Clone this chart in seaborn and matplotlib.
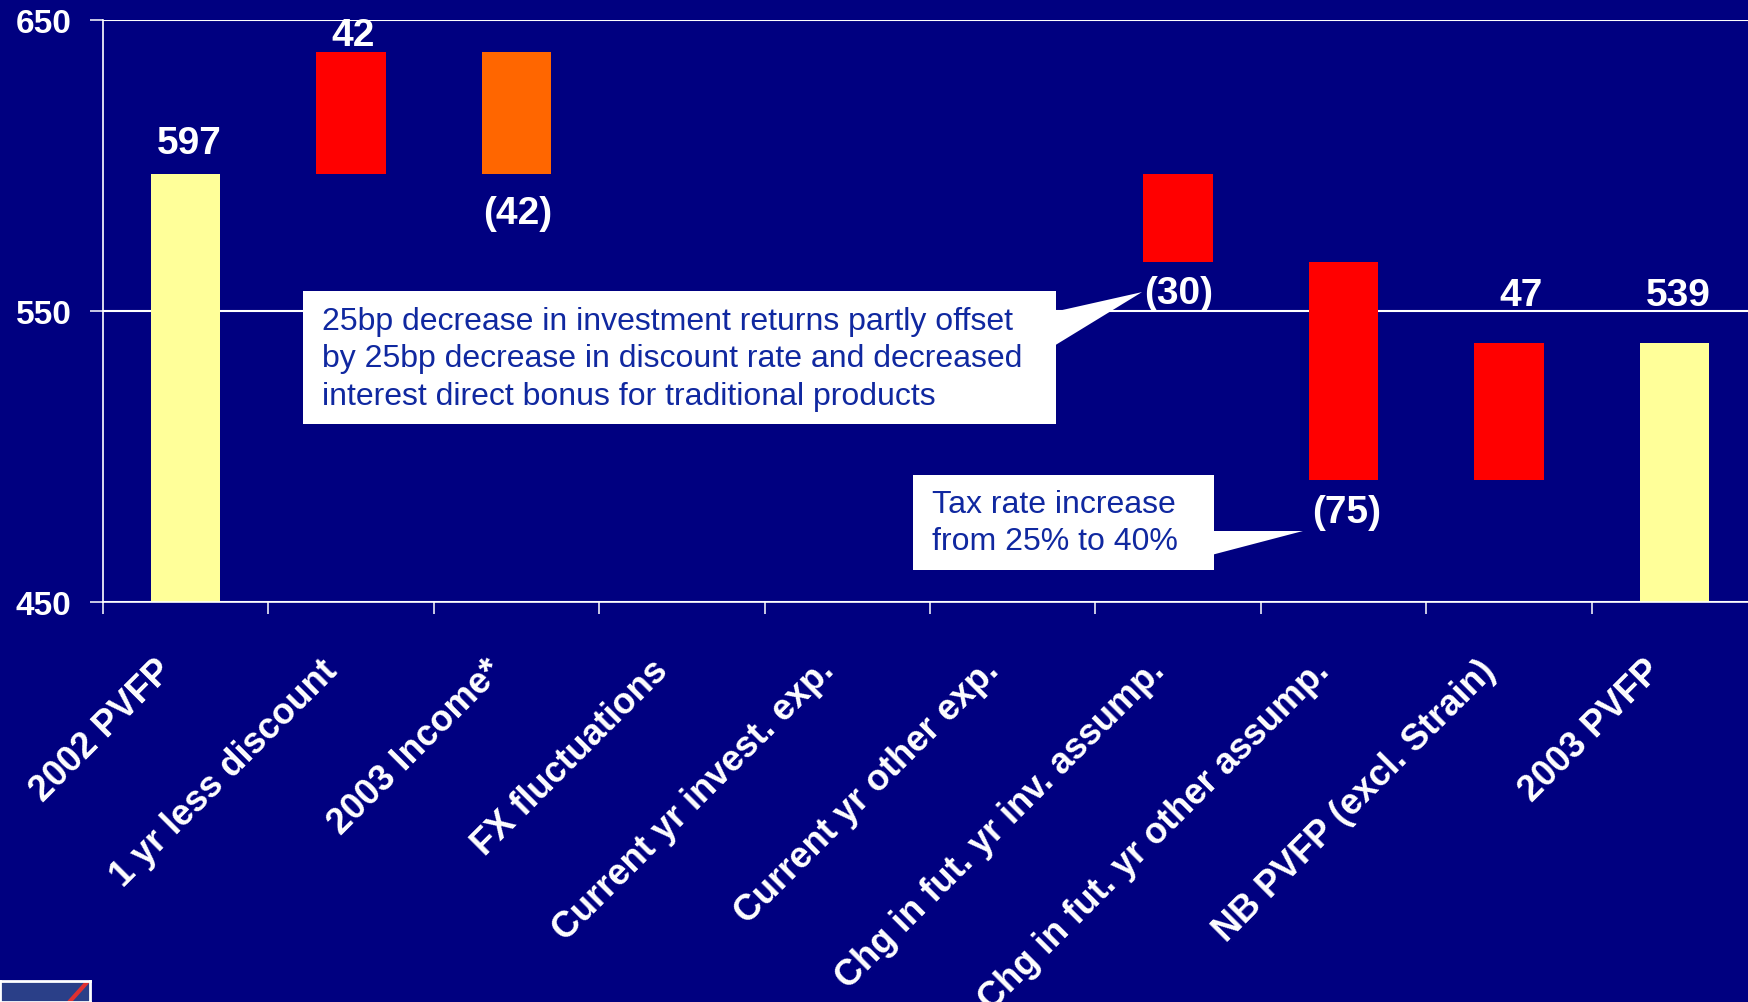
import matplotlib
matplotlib.use("Agg")
import numpy as np
import pandas as pd
import seaborn as sns
import matplotlib.pyplot as plt
from matplotlib.patches import Rectangle, Polygon
from matplotlib.transforms import ScaledTranslation

# PVFP walk, 2002 -> 2003
categories = ["2002 PVFP", "1 yr less discount", "2003 Income*", "FX fluctuations",
              "Current yr invest. exp.", "Current yr other exp.",
              "Chg in fut. yr inv. assump.", "Chg in fut. yr other assump.",
              "NB PVFP (excl. Strain)", "2003 PVFP"]
start_value = 597
changes = [42, -42, 0, 0, 0, -30, -75, 47]
end_value = 539
value_labels = ["597", "42", "(42)", "", "", "", "(30)", "(75)", "47", "539"]
bar_colors = ["#FFFF99", "#FF0000", "#FF6600", "#FF0000", "#FF0000",
              "#FF0000", "#FF0000", "#FF0000", "#FF0000", "#FFFF99"]
y_ticks = [450, 550, 650]

navy = "#000080"
note_blue = "#1028A0"

# waterfall geometry
running = start_value + np.cumsum(changes)
prev = np.concatenate([[start_value], running[:-1]])
bottoms = np.concatenate([[0], np.minimum(prev, running), [0]])
tops = np.concatenate([[start_value], np.maximum(prev, running), [end_value]])
df = pd.DataFrame({"step": categories, "height": tops - bottoms})

plt.rcParams["font.family"] = ["Liberation Sans", "DejaVu Sans"]
plt.rcParams["font.weight"] = "bold"

fig = plt.figure(figsize=(17.49, 10.03), dpi=100, facecolor=navy)
ax = fig.add_axes([103 / 1749, 1 - 603 / 1003, 1654 / 1749, 582 / 1003])
ax.set_facecolor(navy)

sns.barplot(data=df, x="step", y="height", bottom=bottoms, width=0.42,
            color="#FF0000", saturation=1, errorbar=None, linewidth=0, ax=ax)
for patch, c in zip(ax.patches, bar_colors):
    patch.set_facecolor(c)
    patch.set_edgecolor("none")

ax.set_xlim(-0.5, len(categories) - 0.5)
ax.set_ylim(450, 650)
ax.set_xlabel("")
ax.set_ylabel("")

# axes styling
for s in ["top", "right"]:
    ax.spines[s].set_visible(False)
for s in ["left", "bottom"]:
    ax.spines[s].set_color("white")
    ax.spines[s].set_linewidth(1.2)
ax.yaxis.grid(True, color="white", linewidth=1.5)
ax.set_axisbelow(True)
ax.set_yticks(y_ticks, labels=[str(v) for v in y_ticks])
ax.tick_params(axis="y", colors="white", labelsize=24, length=9.5, width=1.1, pad=13)
ax.set_xticks(range(len(categories)), labels=[""] * len(categories))
ax.set_xticks(np.arange(-0.5, len(categories)), minor=True)
ax.tick_params(axis="x", which="major", length=0)
ax.tick_params(axis="x", which="minor", colors="white", length=8.5, width=1.1)

# rotated category labels
lab_tr = ax.get_xaxis_transform() + ScaledTranslation(-0.19, -0.63, fig.dpi_scale_trans)
for i, name in enumerate(categories):
    ax.text(i, 0, name, transform=lab_tr, rotation=45, rotation_mode="anchor",
            ha="right", va="center", color="white", fontsize=26)

# value labels (offsets in pixels)
label_offsets = {0: (4, 21), 1: (2, 7), 2: (1, -21), 6: (1, -13),
                 7: (3, -14), 8: (12, 38), 9: (4, 38)}
for i, lab in enumerate(value_labels):
    if not lab:
        continue
    dx, dy = label_offsets[i]
    if dy > 0:
        ax.annotate(lab, xy=(i, tops[i]), xytext=(dx, dy), textcoords="offset pixels",
                    ha="center", va="baseline", color="white", fontsize=28,
                    annotation_clip=False)
    else:
        ax.annotate(lab, xy=(i, bottoms[i]), xytext=(dx, dy), textcoords="offset pixels",
                    ha="center", va="top", color="white", fontsize=28,
                    annotation_clip=False)

# callout boxes
ax.add_patch(Rectangle((0.709, 511.2), 5.262 - 0.709, 556.9 - 511.2,
                       facecolor="white", edgecolor="none", zorder=5))
ax.add_patch(Polygon([(5.25, 549.7), (5.25, 538.0), (5.782, 556.5)],
                     facecolor="white", edgecolor="none", zorder=5))
ax.text(0.824, 533.8,
        "25bp decrease in investment returns partly offset\n"
        "by 25bp decrease in discount rate and decreased\n"
        "interest direct bonus for traditional products",
        ha="left", va="center", color=note_blue, fontsize=23, fontweight="normal",
        linespacing=1.33, zorder=6)

ax.add_patch(Rectangle((4.397, 461.0), 6.217 - 4.397, 493.6 - 461.0,
                       facecolor="white", edgecolor="none", zorder=5))
ax.add_patch(Polygon([(6.205, 474.4), (6.205, 466.2), (6.755, 474.4)],
                     facecolor="white", edgecolor="none", zorder=5))
ax.text(4.515, 477.3, "Tax rate increase\nfrom 25% to 40%",
        ha="left", va="center", color=note_blue, fontsize=23, fontweight="normal",
        linespacing=1.33, zorder=6)

# small logo corner
logo = fig.add_axes([0, 0, 90 / 1749, 21 / 1003])
logo.set_facecolor("#2A3F88")
logo.set_xticks([])
logo.set_yticks([])
for s in logo.spines.values():
    s.set_color("white")
    s.set_linewidth(2)
logo.plot([0.77, 0.98], [0.0, 1.0], color="#E03030", linewidth=3)
logo.set_xlim(0, 1)
logo.set_ylim(0, 1)

fig.savefig("out.png", dpi=100, facecolor=navy)
